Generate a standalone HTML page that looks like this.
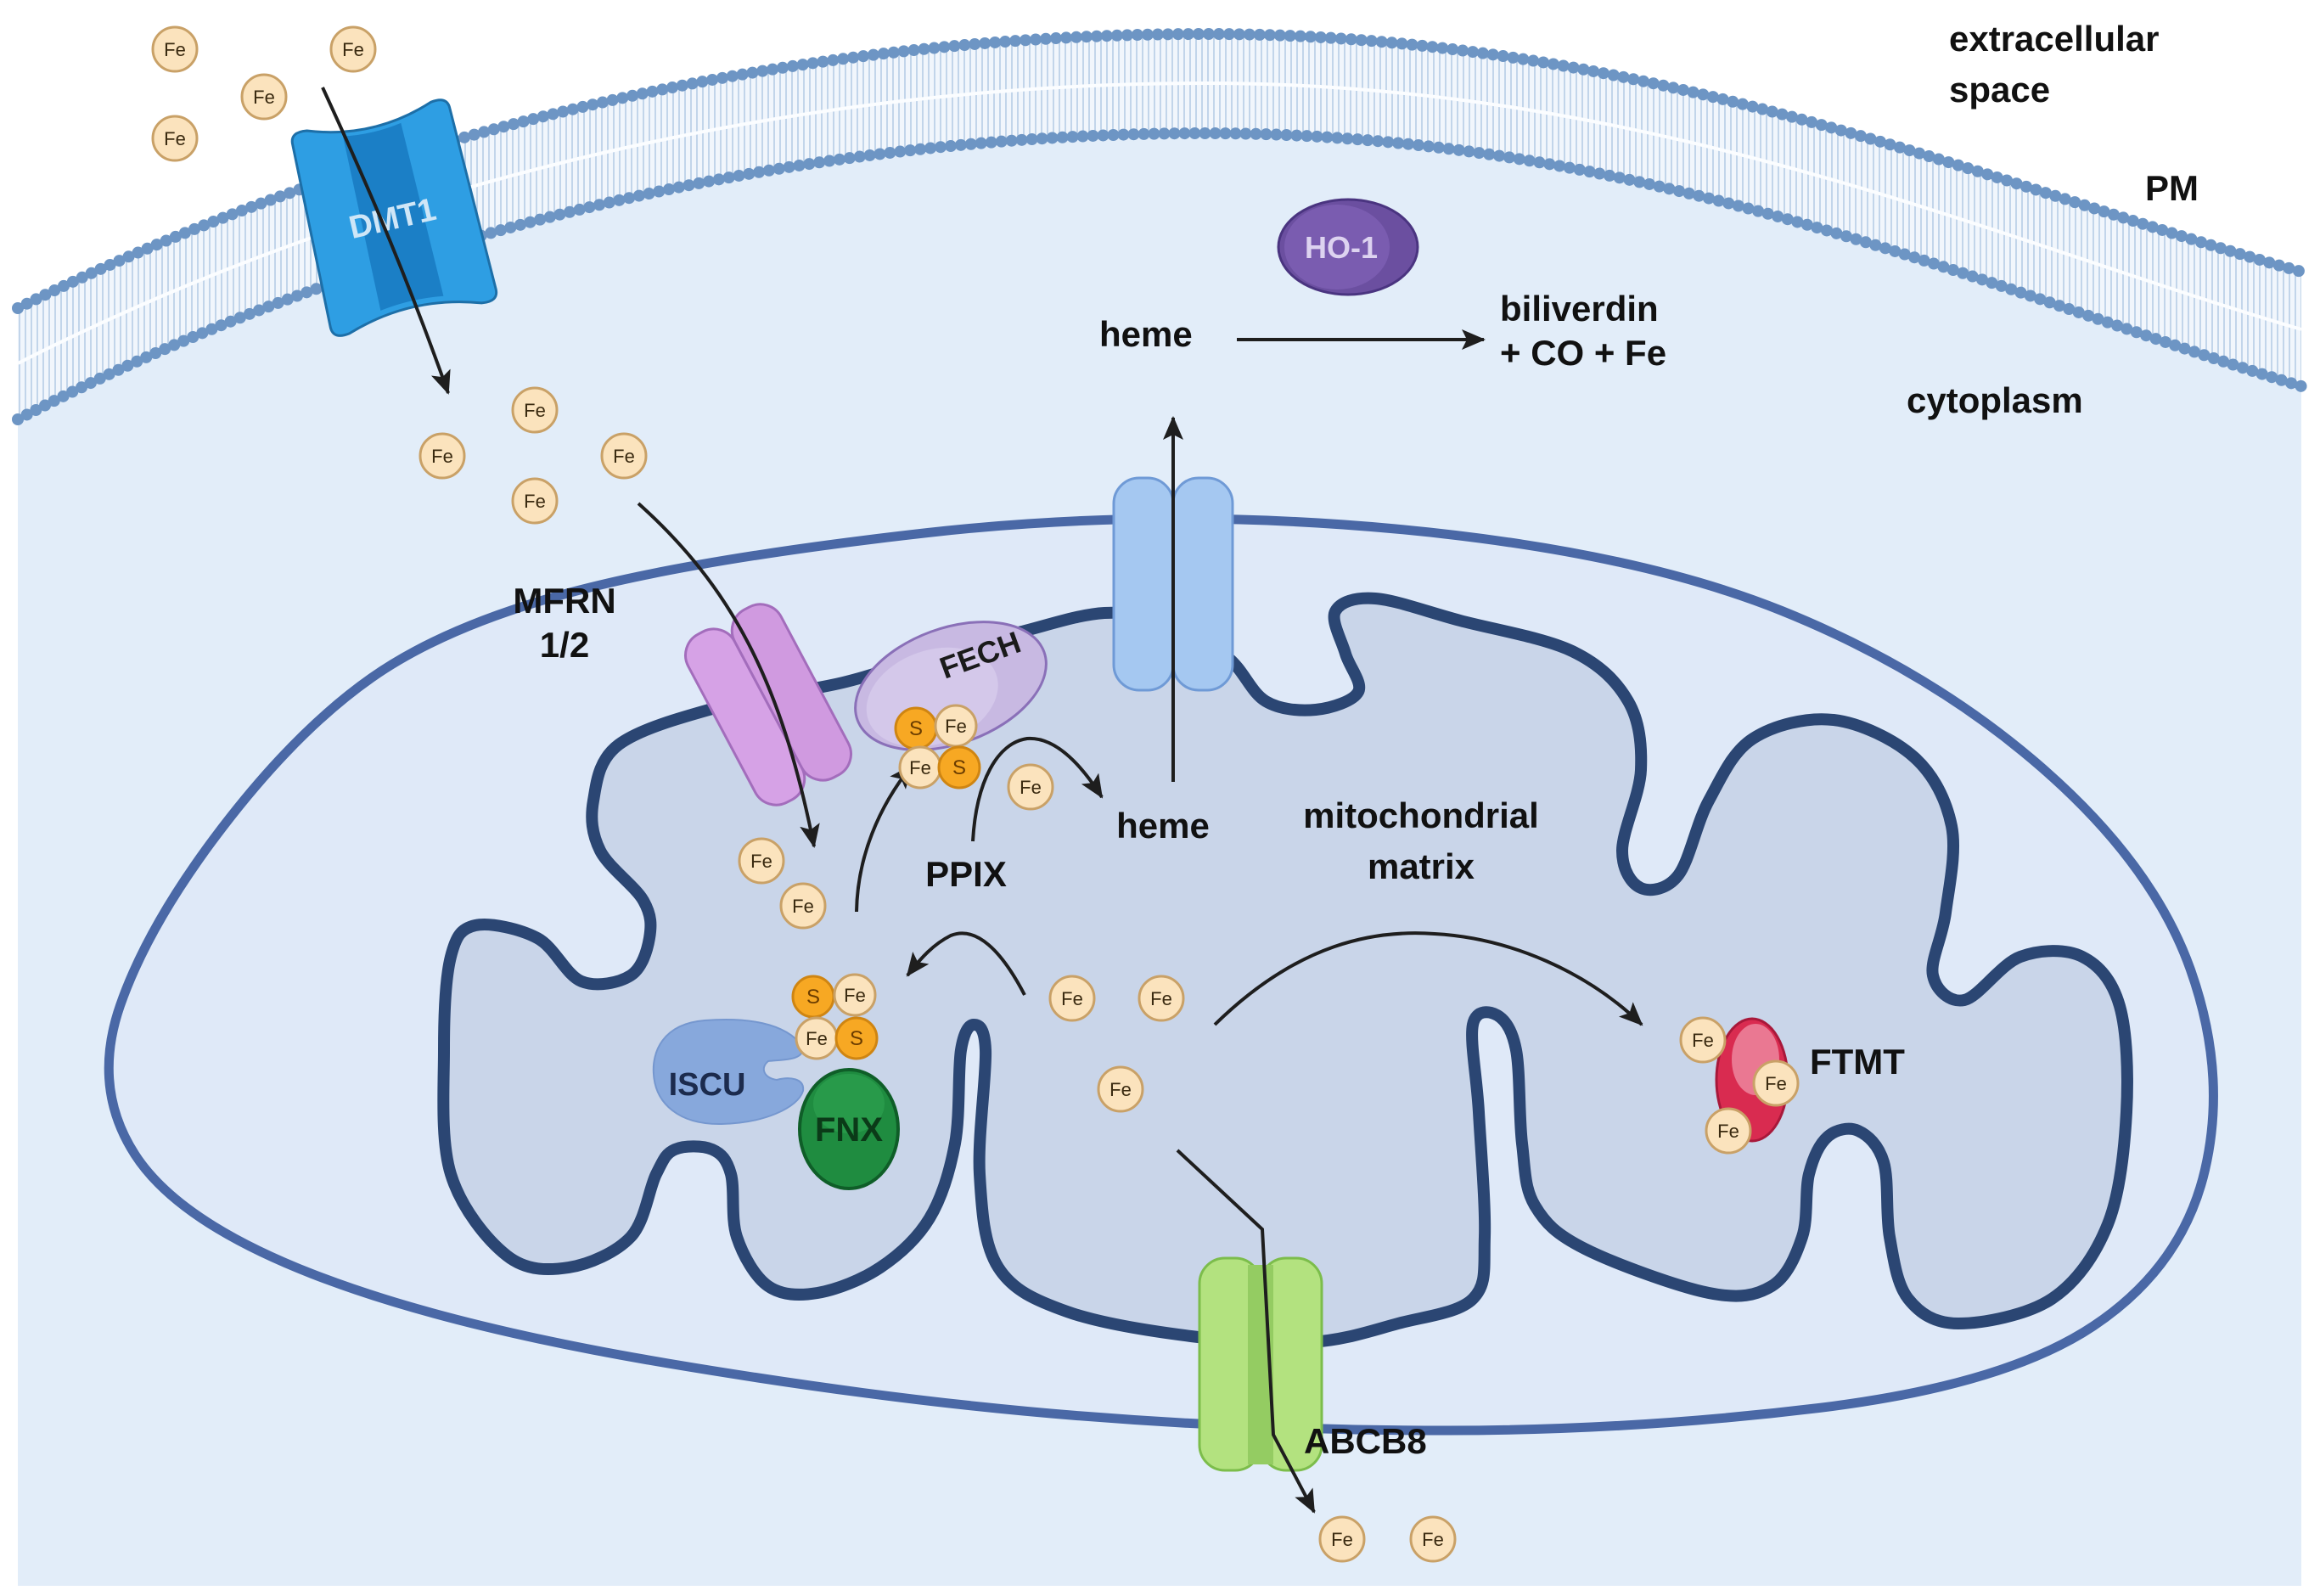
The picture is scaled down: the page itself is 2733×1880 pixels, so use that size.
<!DOCTYPE html>
<html><head><meta charset="utf-8"><style>
html,body{margin:0;padding:0;background:#fff;}
svg{display:block;}
text{font-family:"Liberation Sans",sans-serif;font-weight:bold;}
.fe circle{fill:#fbe3bd;stroke:#c9a167;stroke-width:3;}
.fe text{font-size:22px;font-weight:normal;fill:#3a2a10;text-anchor:middle;}
.s circle{fill:#f7a823;stroke:#cf8512;stroke-width:3;}
.s text{font-size:24px;font-weight:normal;fill:#6a3c00;text-anchor:middle;}
.arr{fill:none;stroke:#1e1e1e;stroke-width:4;marker-end:url(#ah);}
.lbl{font-size:42px;fill:#111;}
</style></head><body>
<svg width="2733" height="1880" viewBox="0 0 2733 1880" xmlns="http://www.w3.org/2000/svg">
<defs>
<marker id="ah" markerUnits="userSpaceOnUse" markerWidth="30" markerHeight="24" refX="26" refY="12" orient="auto">
<path d="M0,0 L28,12 L0,24 L6,12 Z" fill="#1e1e1e"/>
</marker>
<pattern id="tails" width="7" height="10" patternUnits="userSpaceOnUse">
<rect width="7" height="10" fill="#f1f6fc"/>
<line x1="2" y1="0" x2="2" y2="10" stroke="#b7cde6" stroke-width="1.6"/>
</pattern>
</defs>
<rect width="2733" height="1880" fill="#fff"/>
<path d="M21,494 C450,270 950,157 1420,157 C1950,157 2350,345 2711,455 L2711,1868 L21,1868 Z" fill="#e2edf9"/>
<path d="M21,363 C450,150 950,40 1420,40 C1950,40 2350,220 2711,320 L2711,455 C2350,345 1950,157 1420,157 C950,157 450,270 21,494 Z" fill="url(#tails)"/>
<path d="M21,428 C450,210 950,98 1420,98 C1950,98 2350,282 2711,388" fill="none" stroke="#fbfdff" stroke-width="4"/>
<g fill="none" stroke="#6d95c4">
<path d="M21,363 C450,150 950,40 1420,40 C1950,40 2350,220 2711,320" stroke-width="7"/>
<path d="M21,363 C450,150 950,40 1420,40 C1950,40 2350,220 2711,320" stroke-width="14" stroke-dasharray="0 12" stroke-linecap="round"/>
<path d="M21,494 C450,270 950,157 1420,157 C1950,157 2350,345 2711,455" stroke-width="7"/>
<path d="M21,494 C450,270 950,157 1420,157 C1950,157 2350,345 2711,455" stroke-width="14" stroke-dasharray="0 12" stroke-linecap="round"/>
</g>

<path d="M141.5,1184.5 Q175,1088 262.5,974 Q350,860 437.5,798.5 Q525,737 673.5,697.5 Q822,658 1093,627.5 Q1364,597 1644,623 Q1924,649 2099,719.5 Q2274,790 2405,904 Q2536,1018 2580,1141 Q2624,1264 2597.5,1378 Q2571,1492 2466,1562 Q2361,1632 2142.5,1658.5 Q1924,1685 1705.5,1685 Q1487,1685 1268,1667.5 Q1049,1650 787,1606 Q525,1562 367.5,1500.5 Q210,1439 159,1360 Q108,1281 141.5,1184.5 Z" fill="#dfe9f8" stroke="#4a68a6" stroke-width="11"/>
<polygon id="inner" points="993,804 1100,772 1200,745 1301,722 1380,735 1447,775 1491,826 1550,836 1600,815 1585,770 1573,720 1620,705 1720,731 1852,767 1918,826 1933,907 1911,1002 1933,1046 1977,1031 2013,943 2065,870 2160,848 2255,892 2299,973 2292,1075 2277,1149 2314,1178 2380,1127 2453,1127 2497,1185 2505,1310 2483,1442 2417,1530 2307,1559 2248,1530 2226,1457 2219,1369 2189,1332 2153,1339 2131,1383 2123,1457 2087,1515 2013,1523 1867,1471 1808,1420 1793,1347 1786,1237 1764,1196 1735,1207 1742,1310 1749,1457 1735,1530 1647,1559 1544,1581 1403,1574 1257,1545 1176,1493 1154,1383 1161,1237 1147,1207 1132,1237 1125,1347 1095,1435 1037,1493 963,1523 905,1515 868,1457 861,1383 839,1354 795,1354 773,1383 743,1457 670,1493 597,1479 531,1383 523,1237 531,1127 560,1090 633,1105 685,1156 743,1149 765,1105 758,1061 707,1002 699,943 729,877 846,833" fill="#c9d5e9" stroke="#2b4673" stroke-width="14" stroke-linejoin="round"/>

<g transform="translate(462,256) rotate(-13)">
<path d="M-95,-110 Q-95,-125 -75,-122 Q0,-95 75,-122 Q95,-125 95,-110 L100,110 Q100,125 80,122 Q0,95 -80,122 Q-100,125 -100,110 Z" fill="#2e9ee3" stroke="#1d6fa8" stroke-width="3"/>
<path d="M-35,-106 Q0,-100 35,-106 L38,104 Q0,98 -38,104 Z" fill="#1b7fc6"/>
<text x="0" y="14" font-size="38" fill="#cfe6f7" text-anchor="middle">DMT1</text>
</g>

<g stroke="#6f9ad6" stroke-width="3" fill="#a5c8f1">
<rect x="1312" y="563" width="70" height="250" rx="30"/>
<rect x="1382" y="563" width="70" height="250" rx="30"/>
</g>

<g transform="translate(905,830) rotate(-28)">
<rect x="-62" y="-112" width="62" height="224" rx="28" fill="#d6a2e6" stroke="#a36dbc" stroke-width="3"/>
<rect x="0" y="-112" width="62" height="224" rx="28" fill="#d09ae0" stroke="#a36dbc" stroke-width="3"/>
</g>

<g transform="translate(1120,808) rotate(-20)">
<ellipse rx="117" ry="68" fill="#c8b9e2" stroke="#8a70b8" stroke-width="3"/>
<ellipse cx="-25" cy="5" rx="80" ry="55" fill="#d4c8ea"/>
<text x="45" y="-10" font-size="36" fill="#1a1a1a" text-anchor="middle">FECH</text>
</g>

<g stroke="#7cbd4b" stroke-width="3">
<rect x="1413" y="1482" width="72" height="250" rx="30" fill="#b3e27f"/>
<rect x="1485" y="1482" width="72" height="250" rx="30" fill="#b3e27f"/>
</g>
<rect x="1470" y="1490" width="30" height="235" fill="#94cc62"/>

<ellipse cx="1588" cy="291" rx="82" ry="56" fill="#6b4fa0" stroke="#4a3480" stroke-width="3"/>
<ellipse cx="1575" cy="291" rx="62" ry="50" fill="#7a5cb0"/>
<text x="1580" y="304" font-size="36" fill="#ddd3f0" text-anchor="middle">HO-1</text>

<path d="M945,1232 C925,1205 880,1198 830,1202 C780,1206 768,1240 770,1265 C772,1300 800,1325 850,1324 C900,1323 940,1305 946,1285 C948,1270 930,1268 915,1272 C900,1270 895,1258 905,1250 C920,1248 950,1250 945,1232 Z" fill="#87a8dc" stroke="#7597cf" stroke-width="2"/>
<text x="833" y="1290" font-size="38" fill="#1c2b4d" text-anchor="middle">ISCU</text>

<ellipse cx="1000" cy="1330" rx="58" ry="70" fill="#1f8c40" stroke="#0f5e28" stroke-width="4"/>
<ellipse cx="1000" cy="1300" rx="42" ry="35" fill="#2ea352" opacity="0.6"/>
<text x="1000" y="1344" font-size="40" fill="#0b3a18" text-anchor="middle">FNX</text>

<ellipse cx="2064" cy="1272" rx="42" ry="72" fill="#d92b50" stroke="#a8183a" stroke-width="3"/>
<ellipse cx="2068" cy="1248" rx="28" ry="42" fill="#ea7892"/>

<path class="arr" d="M380,103 C420,190 470,300 528,463"/>
<path class="arr" d="M752,593 C860,690 920,800 959,997"/>
<path class="arr" d="M1382,921 L1382,492"/>
<path class="arr" d="M1457,400 L1748,400"/>
<path class="arr" d="M1009,1074 C1010,1010 1035,950 1074,902"/>
<path class="arr" d="M1146,991 C1150,920 1175,875 1210,870 C1240,868 1270,895 1298,939"/>
<path class="arr" d="M1207,1172 C1180,1120 1150,1090 1120,1102 C1100,1112 1085,1128 1069,1149"/>
<path class="arr" d="M1431,1207 C1530,1110 1620,1095 1690,1100 C1780,1105 1870,1145 1934,1207"/>
<path class="arr" d="M1387,1355 L1487,1448 L1500,1690 L1548,1781"/>

<g class="s"><circle cx="1079" cy="858" r="24"/><text x="1079" y="866">S</text></g>
<g class="fe"><circle cx="1126" cy="855" r="24"/><text x="1126" y="863">Fe</text></g>
<g class="fe"><circle cx="1084" cy="904" r="24"/><text x="1084" y="912">Fe</text></g>
<g class="s"><circle cx="1130" cy="904" r="24"/><text x="1130" y="912">S</text></g>

<g class="s"><circle cx="958" cy="1174" r="24"/><text x="958" y="1182">S</text></g>
<g class="fe"><circle cx="1007" cy="1172" r="24"/><text x="1007" y="1180">Fe</text></g>
<g class="fe"><circle cx="962" cy="1223" r="24"/><text x="962" y="1231">Fe</text></g>
<g class="s"><circle cx="1009" cy="1223" r="24"/><text x="1009" y="1231">S</text></g>

<g class="fe"><circle cx="206" cy="58" r="26"/><text x="206" y="66">Fe</text></g>
<g class="fe"><circle cx="416" cy="58" r="26"/><text x="416" y="66">Fe</text></g>
<g class="fe"><circle cx="311" cy="114" r="26"/><text x="311" y="122">Fe</text></g>
<g class="fe"><circle cx="206" cy="163" r="26"/><text x="206" y="171">Fe</text></g>
<g class="fe"><circle cx="630" cy="483" r="26"/><text x="630" y="491">Fe</text></g>
<g class="fe"><circle cx="521" cy="537" r="26"/><text x="521" y="545">Fe</text></g>
<g class="fe"><circle cx="735" cy="537" r="26"/><text x="735" y="545">Fe</text></g>
<g class="fe"><circle cx="630" cy="590" r="26"/><text x="630" y="598">Fe</text></g>
<g class="fe"><circle cx="897" cy="1014" r="26"/><text x="897" y="1022">Fe</text></g>
<g class="fe"><circle cx="946" cy="1067" r="26"/><text x="946" y="1075">Fe</text></g>
<g class="fe"><circle cx="1214" cy="927" r="26"/><text x="1214" y="935">Fe</text></g>
<g class="fe"><circle cx="1263" cy="1176" r="26"/><text x="1263" y="1184">Fe</text></g>
<g class="fe"><circle cx="1368" cy="1176" r="26"/><text x="1368" y="1184">Fe</text></g>
<g class="fe"><circle cx="1320" cy="1283" r="26"/><text x="1320" y="1291">Fe</text></g>
<g class="fe"><circle cx="2006" cy="1225" r="26"/><text x="2006" y="1233">Fe</text></g>
<g class="fe"><circle cx="2092" cy="1276" r="26"/><text x="2092" y="1284">Fe</text></g>
<g class="fe"><circle cx="2036" cy="1332" r="26"/><text x="2036" y="1340">Fe</text></g>
<g class="fe"><circle cx="1581" cy="1813" r="26"/><text x="1581" y="1821">Fe</text></g>
<g class="fe"><circle cx="1688" cy="1813" r="26"/><text x="1688" y="1821">Fe</text></g>

<text class="lbl" x="2296" y="60">extracellular</text>
<text class="lbl" x="2296" y="120">space</text>
<text class="lbl" x="2527" y="236">PM</text>
<text class="lbl" x="2246" y="486">cytoplasm</text>
<text class="lbl" x="1295" y="408" font-size="44">heme</text>
<text class="lbl" x="1767" y="378" font-size="38">biliverdin</text>
<text class="lbl" x="1767" y="430" font-size="38">+ CO + Fe</text>
<text class="lbl" x="665" y="722" font-size="38" text-anchor="middle">MFRN</text>
<text class="lbl" x="665" y="774" font-size="38" text-anchor="middle">1/2</text>
<text class="lbl" x="1138" y="1044" font-size="44" text-anchor="middle">PPIX</text>
<text class="lbl" x="1370" y="987" font-size="44" text-anchor="middle">heme</text>
<text class="lbl" x="1674" y="975" font-size="42" text-anchor="middle">mitochondrial</text>
<text class="lbl" x="1674" y="1035" font-size="42" text-anchor="middle">matrix</text>
<text class="lbl" x="2132" y="1265" font-size="38">FTMT</text>
<text class="lbl" x="1536" y="1712" font-size="38">ABCB8</text>
</svg>
<script>
(function(){
var poly=document.getElementById('inner');
if(!poly)return;
var n=poly.getAttribute('points').trim().split(/\s+/).map(function(s){var a=s.split(',');return [+a[0],+a[1]];});
var L=n.length,d='M'+n[0][0]+','+n[0][1];
for(var i=0;i<L;i++){
var p0=n[(i-1+L)%L],p1=n[i],p2=n[(i+1)%L],p3=n[(i+2)%L];
var c1=[p1[0]+(p2[0]-p0[0])/6,p1[1]+(p2[1]-p0[1])/6];
var c2=[p2[0]-(p3[0]-p1[0])/6,p2[1]-(p3[1]-p1[1])/6];
d+=' C'+c1[0].toFixed(1)+','+c1[1].toFixed(1)+' '+c2[0].toFixed(1)+','+c2[1].toFixed(1)+' '+p2[0]+','+p2[1];
}
d+='Z';
var path=document.createElementNS('http://www.w3.org/2000/svg','path');
['fill','stroke','stroke-width','stroke-linejoin'].forEach(function(a){path.setAttribute(a,poly.getAttribute(a));});
path.setAttribute('d',d);
poly.parentNode.replaceChild(path,poly);
})();
</script>
</body></html>
